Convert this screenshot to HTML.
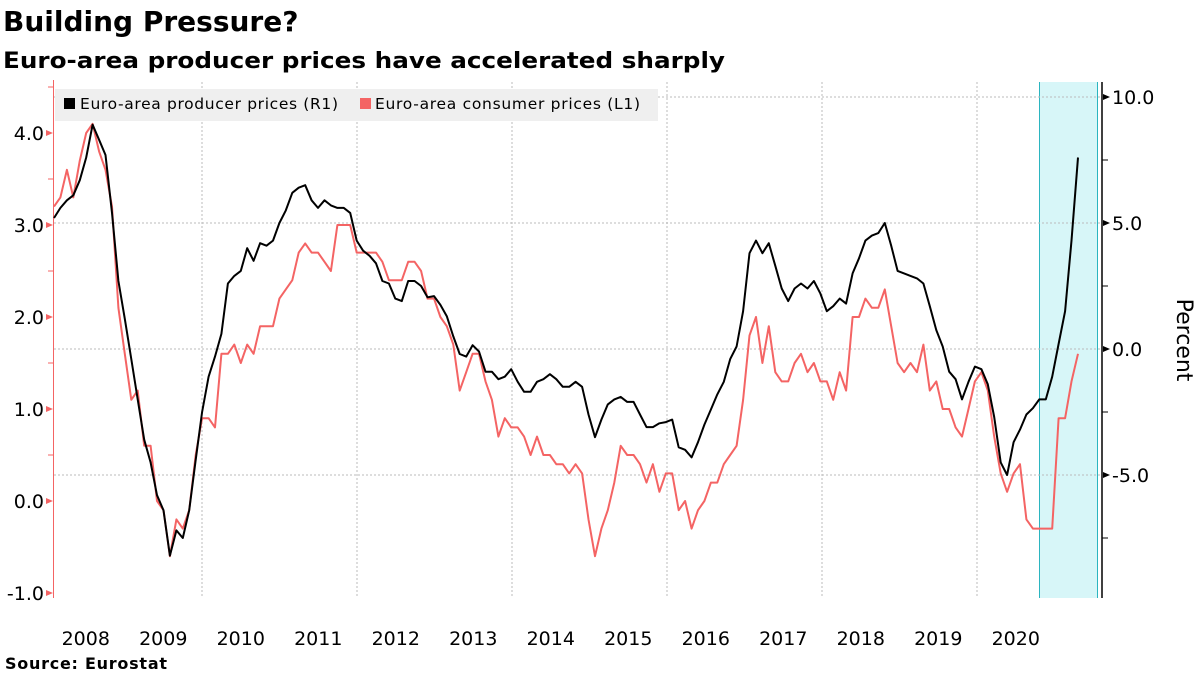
<!DOCTYPE html>
<html><head><meta charset="utf-8"><style>
body{margin:0;background:#fff;width:1200px;height:675px;overflow:hidden}
svg{display:block;font-family:"DejaVu Sans","Liberation Sans",sans-serif}
</style></head><body>
<svg id="chart" width="1200" height="675">
<text x="3" y="31" font-size="28" font-weight="bold" fill="#000">Building Pressure?</text>
<text x="3" y="68" font-size="22" font-weight="bold" fill="#000" textLength="722" lengthAdjust="spacingAndGlyphs">Euro-area producer prices have accelerated sharply</text>
<rect x="1039" y="82" width="59" height="516" fill="#d7f6f8"/>
<line x1="1039.5" y1="82" x2="1039.5" y2="598" stroke="#2bb5c0" stroke-width="1"/>
<line x1="1097.5" y1="82" x2="1097.5" y2="598" stroke="#2bb5c0" stroke-width="1"/>
<g id="grid"></g>
<rect x="55" y="89" width="603" height="32" fill="#efefef"/>
<rect x="64" y="98" width="11" height="11" fill="#000"/>
<text x="80" y="109" font-size="15.5" fill="#000" textLength="258" lengthAdjust="spacing">Euro-area producer prices (R1)</text>
<rect x="360" y="98" width="11" height="11" fill="#f46464"/>
<text x="375" y="109" font-size="15.5" fill="#000" textLength="265" lengthAdjust="spacing">Euro-area consumer prices  (L1)</text>
<line x1="53.5" y1="80" x2="53.5" y2="598" stroke="#f46464" stroke-width="1"/>
<line x1="1102" y1="82" x2="1102" y2="598" stroke="#000" stroke-width="1.5"/>
<g id="axes"></g>
<g id="series"></g>
<text transform="translate(1177,340) rotate(90)" text-anchor="middle" font-size="22" fill="#000">Percent</text>
<text x="5" y="669" font-size="16" font-weight="bold" fill="#000" textLength="162" lengthAdjust="spacing">Source:  Eurostat</text>
</svg>
<script>
const years = [2008,2009,2010,2011,2012,2013,2014,2015,2016,2017,2018,2019,2020];
const leftTicks = [4.0,3.0,2.0,1.0,0.0,-1.0];
const rightTicks = [10.0,5.0,0.0,-5.0];
const cpi = [3.2,3.3,3.6,3.3,3.7,4.0,4.1,3.8,3.6,3.2,2.1,1.6,
1.1,1.2,0.6,0.6,0.0,-0.1,-0.6,-0.2,-0.3,-0.1,0.5,0.9,
0.9,0.8,1.6,1.6,1.7,1.5,1.7,1.6,1.9,1.9,1.9,2.2,
2.3,2.4,2.7,2.8,2.7,2.7,2.6,2.5,3.0,3.0,3.0,2.7,
2.7,2.7,2.7,2.6,2.4,2.4,2.4,2.6,2.6,2.5,2.2,2.2,
2.0,1.9,1.7,1.2,1.4,1.6,1.6,1.3,1.1,0.7,0.9,0.8,
0.8,0.7,0.5,0.7,0.5,0.5,0.4,0.4,0.3,0.4,0.3,-0.2,
-0.6,-0.3,-0.1,0.2,0.6,0.5,0.5,0.4,0.2,0.4,0.1,0.3,
0.3,-0.1,0.0,-0.3,-0.1,0.0,0.2,0.2,0.4,0.5,0.6,1.1,
1.8,2.0,1.5,1.9,1.4,1.3,1.3,1.5,1.6,1.4,1.5,1.3,
1.3,1.1,1.4,1.2,2.0,2.0,2.2,2.1,2.1,2.3,1.9,1.5,
1.4,1.5,1.4,1.7,1.2,1.3,1.0,1.0,0.8,0.7,1.0,1.3,
1.4,1.2,0.7,0.3,0.1,0.3,0.4,-0.2,-0.3,-0.3,-0.3,-0.3,
0.9,0.9,1.3,1.6];
const ppi = [5.2,5.6,5.9,6.1,6.7,7.6,8.9,8.3,7.7,5.4,2.7,1.2,
-0.4,-2.0,-3.6,-4.5,-5.8,-6.4,-8.2,-7.2,-7.5,-6.4,-4.4,-2.5,
-1.1,-0.3,0.6,2.6,2.9,3.1,4.0,3.5,4.2,4.1,4.3,5.0,
5.5,6.2,6.4,6.5,5.9,5.6,5.9,5.7,5.6,5.6,5.4,4.3,
3.9,3.7,3.4,2.7,2.6,2.0,1.9,2.7,2.7,2.5,2.05,2.1,
1.75,1.3,0.5,-0.2,-0.3,0.15,-0.1,-0.9,-0.9,-1.2,-1.1,-0.8,
-1.3,-1.7,-1.7,-1.3,-1.2,-1.0,-1.2,-1.5,-1.5,-1.3,-1.5,-2.6,
-3.5,-2.8,-2.2,-2.0,-1.9,-2.1,-2.1,-2.6,-3.1,-3.1,-2.95,-2.9,
-2.8,-3.9,-4.0,-4.3,-3.7,-3.0,-2.4,-1.8,-1.3,-0.4,0.1,1.5,
3.8,4.3,3.8,4.2,3.3,2.4,1.9,2.4,2.6,2.4,2.7,2.2,
1.5,1.7,2.0,1.8,3.0,3.6,4.3,4.5,4.6,5.0,4.1,3.1,
3.0,2.9,2.8,2.6,1.7,0.75,0.1,-0.9,-1.2,-2.0,-1.3,-0.7,
-0.8,-1.4,-2.7,-4.5,-5.0,-3.7,-3.2,-2.6,-2.35,-2.0,-2.0,-1.1,
0.2,1.5,4.3,7.6];

const NS='http://www.w3.org/2000/svg';
function xMonth(m){return 54 + m*6.44;}
function xYearStart(y){return 202 + (y-2010)*77.5;}
function yLeft(v){return 501 - v*92;}
function yRight(v){return 349 - v*25.2;}
function mk(tag, attrs, parent){const e=document.createElementNS(NS,tag);for(const k in attrs)e.setAttribute(k,attrs[k]);parent.appendChild(e);return e;}

const grid=document.getElementById('grid');
for(let y=2010;y<=2020;y+=2){
  const l=mk('line',{x1:xYearStart(y),x2:xYearStart(y),y1:82,y2:598,stroke:'#bbb','stroke-dasharray':'2,2','stroke-width':1},grid);
  
  
}
for(const v of rightTicks){
  const l=mk('line',{x1:54,x2:1102,y1:yRight(v),y2:yRight(v),stroke:'#bbb','stroke-dasharray':'2,2','stroke-width':1},grid);
  
  
}
const axes=document.getElementById('axes');
for(const v of leftTicks){
  const y=yLeft(v);
  const p=mk('path',{d:`M46 ${y-3} L53 ${y} L46 ${y+3} Z`,fill:'#f46464'},axes);
  
  
  const t=mk('text',{x:44,y:y+7,'text-anchor':'end','font-size':19,fill:'#000'},axes);
  t.textContent=v.toFixed(1);
  
  
  if(v>-1){const mt=mk('line',{x1:48,x2:53,y1:y-46,y2:y-46,stroke:'#f46464'},axes);
  
  }
}
for(const v of rightTicks){
  const y=yRight(v);
  const p=mk('path',{d:`M1103 ${y-3} L1110 ${y} L1103 ${y+3} Z`,fill:'#000'},axes);
  
  
  const t=mk('text',{x:1112,y:y+7,'font-size':19,fill:'#000'},axes);
  t.textContent=v.toFixed(1);
  
  
  const mt=mk('line',{x1:1102,x2:1108,y1:y+63,y2:y+63,stroke:'#000'},axes);
  
  
}
for(const yr of years){
  const t=mk('text',{x:xYearStart(yr)+38.75,y:645,'text-anchor':'middle','font-size':19,fill:'#000'},axes);
  t.textContent=yr;
  
  
}
const series=document.getElementById('series');
const cp=mk('polyline',{points:cpi.map((v,i)=>xMonth(i).toFixed(1)+','+yLeft(v).toFixed(1)).join(' '),fill:'none',stroke:'#f46464','stroke-width':2,'stroke-linejoin':'round'},series);


const pp=mk('polyline',{points:ppi.map((v,i)=>xMonth(i).toFixed(1)+','+yRight(v).toFixed(1)).join(' '),fill:'none',stroke:'#000','stroke-width':2,'stroke-linejoin':'round'},series);


</script>
</body></html>
